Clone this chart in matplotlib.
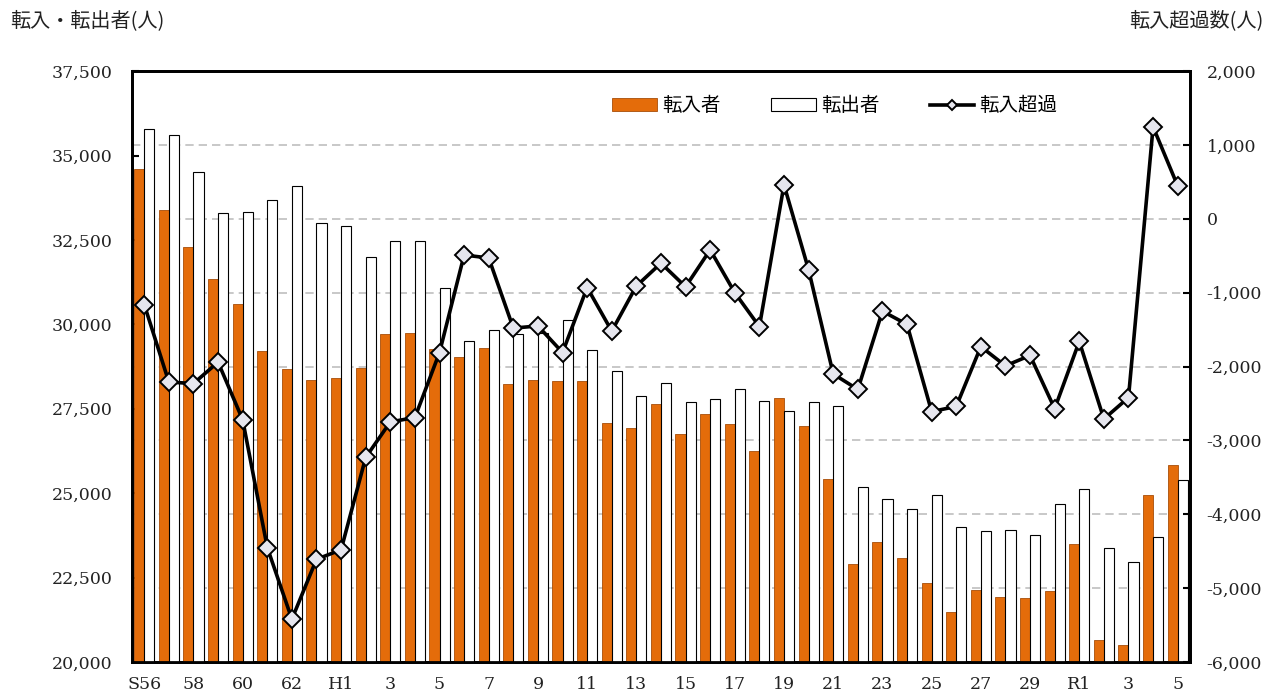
import numpy as np
import matplotlib
matplotlib.use("Agg")
import matplotlib.pyplot as plt
from matplotlib.ticker import FuncFormatter
from matplotlib.transforms import blended_transform_factory

plt.rcParams['font.family'] = ['Noto Sans CJK JP', 'DejaVu Sans']

# years S56 .. S63, H1 .. H30, R1 .. R5
years = (["S56"] + [str(y) for y in range(57, 64)] + ["H1"] + [str(y) for y in range(2, 31)]
         + ["R1"] + [str(y) for y in range(2, 6)])

tennyu = [34600, 33380, 32290, 31340, 30600, 29210, 28680, 28350, 28410, 28710,
          29710, 29740, 29270, 29030, 29300, 28230, 28350, 28320, 28320, 27080,
          26930, 27640, 26750, 27340, 27050, 26250, 27820, 26990, 25420, 22900,
          23550, 23080, 22340, 21480, 22130, 21920, 21890, 22100, 23490, 20650,
          20500, 24950, 25830]

tenshutsu = [35780, 35600, 34510, 33300, 33320, 33680, 34090, 33000, 32910, 31990,
             32470, 32470, 31080, 29500, 29830, 29710, 29740, 30130, 29240, 28620,
             27880, 28260, 27700, 27790, 28080, 27730, 27430, 27700, 27580, 25180,
             24830, 24530, 24940, 24000, 23880, 23910, 23760, 24680, 25120, 23380,
             22960, 23700, 25390]

chouka = [-1160, -2210, -2230, -1940, -2720, -4450, -5420, -4610, -4480, -3230,
          -2750, -2690, -1810, -490, -530, -1480, -1450, -1810, -930, -1520,
          -910, -600, -920, -420, -1000, -1460, 460, -690, -2100, -2310,
          -1250, -1430, -2610, -2540, -1730, -1990, -1850, -2570, -1660, -2710,
          -2420, 1245, 445]

left_ticks = [20000, 22500, 25000, 27500, 30000, 32500, 35000, 37500]
right_ticks = [-6000, -5000, -4000, -3000, -2000, -1000, 0, 1000, 2000]

x = np.arange(len(years))
w = 0.41

fig = plt.figure(figsize=(12.76, 6.97), dpi=100)
ax = fig.add_axes([0.1034, 0.0502, 0.8292, 0.8478])
ax2 = ax.twinx()

ax.bar(x - w / 2, tennyu, width=w, color="#E46C0A", edgecolor="#A84E08", linewidth=0.6,
       label="転入者", zorder=3)
ax.bar(x + w / 2, tenshutsu, width=w, color="white", edgecolor="black", linewidth=0.8,
       label="転出者", zorder=3)
ax.set_ylim(20000, 37500)
ax.set_xlim(-0.5, len(years) - 0.5)
ax.set_yticks(left_ticks)

ax2.plot(x, chouka, color="black", linewidth=2.6, marker="D", markersize=9,
         markerfacecolor="#E6E6EE", markeredgecolor="black", markeredgewidth=1.4,
         label="転入超過", zorder=4)
ax2.set_ylim(-6000, 2000)
ax2.set_yticks(right_ticks)

# dashed grid follows the right axis but sits behind the bars
tr = blended_transform_factory(ax.transAxes, ax2.transData)
for v in right_ticks[1:-1]:
    ax.plot([0, 1], [v, v], transform=tr, color="#BFBFBF", linewidth=1.2,
            linestyle=(0, (5, 3)), zorder=1)

fmt = FuncFormatter(lambda v, p: f"{v:,.0f}")
ax.yaxis.set_major_formatter(fmt)
ax2.yaxis.set_major_formatter(fmt)

ax.set_xticks(x[::2])
ax.set_xticklabels(years[::2])
for t in ax.get_xticklabels() + ax.get_yticklabels() + ax2.get_yticklabels():
    t.set_family("DejaVu Serif")
    t.set_fontsize(12.5)
    t.set_color("#222222")

ax.tick_params(axis="x", length=0, pad=10)
ax.tick_params(axis="y", direction="in", length=5, width=1.5, pad=14)
ax2.tick_params(axis="y", direction="in", length=5, width=1.5, pad=12)

for a in (ax, ax2):
    for s in a.spines.values():
        s.set_linewidth(2)
        s.set_color("black")

h1, l1 = ax.get_legend_handles_labels()
h2, l2 = ax2.get_legend_handles_labels()
leg = ax2.legend(h1 + h2, l1 + l2, ncol=3, loc="center left", bbox_to_anchor=(0.445, 0.941),
                 frameon=False, fontsize=14, handlelength=2.3, handleheight=0.7,
                 handletextpad=0.25, columnspacing=2.6, borderpad=0, markerscale=0.6)

fig.text(0.008, 0.970, "転入・転出者(人)", fontsize=14.5, va="center", ha="left", color="#222222")
fig.text(0.990, 0.970, "転入超過数(人)", fontsize=14.5, va="center", ha="right", color="#222222")

fig.savefig("out.png", dpi=100)
